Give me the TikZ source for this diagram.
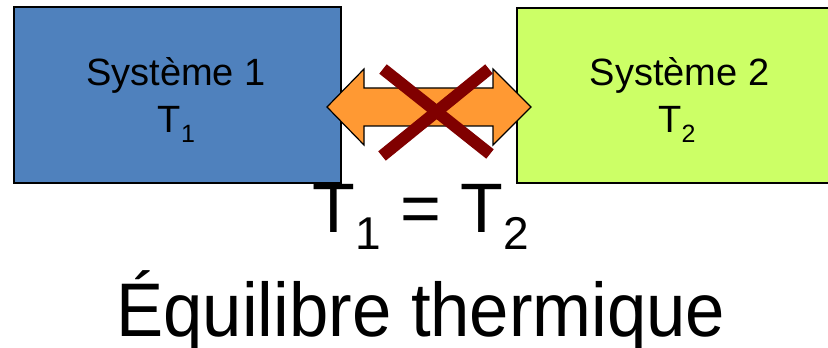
\documentclass[tikz,border=0pt]{standalone}
\usepackage{fontspec}
\setmainfont{Liberation Sans}
\definecolor{boxblue}{HTML}{4F81BD}
\definecolor{boxgreen}{HTML}{CCFF66}
\definecolor{arroworange}{HTML}{FF9933}
\definecolor{crossred}{HTML}{800000}
\tikzset{
  sysbox/.style={draw=black, line width=1.5pt, rectangle, inner sep=0pt},
  lbl/.style={anchor=base, inner sep=0pt, text=black},
  blockarrow/.style={draw=black, line width=1.2pt, fill=arroworange, line join=miter},
  crossline/.style={draw=crossred, line width=12pt, line cap=butt}
}
\newcommand{\subd}[3]{\raisebox{-#1pt}{\fontsize{#2}{#2}\selectfont #3}}
\begin{document}
\begin{tikzpicture}[x=1pt,y=1pt]
\useasboundingbox (0,0) rectangle (828,348);
\clip (0,0) rectangle (828,348);
\node[sysbox, fill=boxblue, minimum width=327pt, minimum height=176pt] (s1) at (177.5,253) {};
\node[sysbox, fill=boxgreen, minimum width=325pt, minimum height=175pt] (s2) at (679.5,252.5) {};
\draw[blockarrow] (327,241) -- (364,279) -- (364,260) -- (493,260) -- (493,279) -- (531,241)
  -- (493,203) -- (493,222) -- (364,222) -- (364,203) -- cycle;
\draw[crossline] (383,279) -- (490,194);
\draw[crossline] (489,279) -- (382,192);
\node[lbl] (n1) at (176,262) {\fontsize{38}{38}\selectfont Système 1};
\node[lbl] (t1) at (176.5,215) {\fontsize{38}{38}\selectfont T\subd{10}{25}{1}};
\node[lbl] (n2) at (679.5,262) {\fontsize{38}{38}\selectfont Système 2};
\node[lbl] (t2) at (677,215) {\fontsize{38}{38}\selectfont T\subd{10}{25}{2}};
\node[lbl] (eq) at (420.5,115) {\fontsize{70}{70}\selectfont T\subd{17}{46}{1} = T\subd{17}{46}{2}};
\node[lbl] (eqth) at (421,11) {\scalebox{0.93}[1]{\fontsize{76}{76}\selectfont Équilibre thermique}};
\end{tikzpicture}
\end{document}
